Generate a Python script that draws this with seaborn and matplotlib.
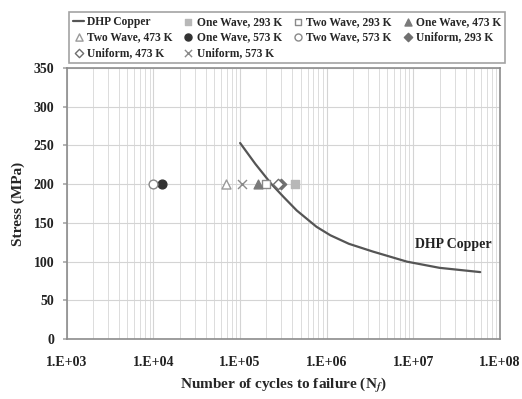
import math
import matplotlib
matplotlib.use("Agg")
import matplotlib.pyplot as plt
from matplotlib.ticker import LogLocator, FixedLocator, FuncFormatter
import seaborn as sns

# S-N curve for DHP copper
curve_cycles = [1.0e5, 1.5e5, 2.3e5, 3.2e5, 4.5e5, 7.6e5, 1.1e6, 1.8e6,
                3.4e6, 8.4e6, 2.0e7, 5.9e7]
curve_stress = [253, 226, 200, 183, 166, 145, 134, 123,
                113, 100, 92, 86.5]

# test points, all at 200 MPa
labels = ["One Wave, 293 K", "Two Wave, 293 K", "One Wave, 473 K",
          "Two Wave, 473 K", "One Wave, 573 K", "Two Wave, 573 K",
          "Uniform, 293 K", "Uniform, 473 K", "Uniform, 573 K"]
cycles = [4.3e5, 2.0e5, 1.62e5, 6.8e4, 1.27e4, 1.0e4, 3.0e5, 2.75e5, 1.06e5]
stress = [200, 200, 200, 200, 200, 200, 200, 200, 200]

markers = ["s", "s", "^", "^", "o", "o", "D", "D", "x"]
filled = [True, False, True, False, True, False, True, False, True]
colors = ["#b8b8b8", "#8a8a8a", "#7a7a7a", "#9a9a9a", "#333333", "#8a8a8a",
          "#707070", "#6e6e6e", "#8a8a8a"]
sizes = [38, 38, 40, 42, 40, 40, 28, 28, 42]

sns.set_theme(style="whitegrid")
plt.rcParams["font.family"] = ["Liberation Serif", "DejaVu Serif"]
plt.rcParams["mathtext.fontset"] = "stix"
plt.rcParams["font.weight"] = "bold"

fig = plt.figure(figsize=(5.22, 3.99), dpi=100)
ax = fig.add_axes([0.128, 0.150, 0.830, 0.680])

sns.lineplot(x=curve_cycles, y=curve_stress, ax=ax, color="#555555",
             linewidth=1.6, label="DHP Copper", legend=False)
handles = [ax.lines[0]]

for lab, n, s, m, f, c, sz in zip(labels, cycles, stress, markers, filled, colors, sizes):
    if m == "x":
        h = ax.scatter([n], [s], marker=m, s=sz, color=c, linewidths=1.0, label=lab, zorder=3)
    elif f:
        h = ax.scatter([n], [s], marker=m, s=sz, color=c, edgecolors=c, label=lab, zorder=3)
    else:
        h = ax.scatter([n], [s], marker=m, s=sz, facecolors="white", edgecolors=c,
                       linewidths=1.0, label=lab, zorder=3)
    handles.append(h)

ax.set_xscale("log")
ax.set_xlim(1e3, 1e8)
ax.set_ylim(0, 350)
ax.yaxis.set_major_locator(FixedLocator(list(range(0, 351, 50))))
ax.xaxis.set_major_locator(LogLocator(base=10, numticks=10))
ax.xaxis.set_minor_locator(LogLocator(base=10, subs=range(2, 10), numticks=100))
ax.xaxis.set_major_formatter(FuncFormatter(lambda v, p: "1.E+%02d" % round(math.log10(v))))

ax.grid(True, which="major", color="#d4d4d4", linewidth=0.8)
ax.grid(True, which="minor", axis="x", color="#dcdcdc", linewidth=0.7)
for sp in ax.spines.values():
    sp.set_color("#8c8c8c")
    sp.set_linewidth(1.2)
ax.tick_params(axis="both", which="major", labelsize=10, colors="#222222", length=3, pad=6)
ax.tick_params(axis="x", which="major", pad=9)
ax.tick_params(axis="y", left=True, color="#aaaaaa")
for t in ax.get_xticklabels() + ax.get_yticklabels():
    t.set_fontweight("bold")

ax.set_xlabel(r"Number of cycles to failure (N$_f$)", fontsize=11, fontweight="bold", labelpad=5)
ax.set_ylabel("Stress (MPa)", fontsize=11, fontweight="bold", labelpad=6)

ax.text(2.9e7, 122, "DHP Copper", ha="center", va="center", fontsize=10, fontweight="bold",
        color="#222222")

# legend filled row by row (4 columns)
order = [0, 4, 8, 1, 5, 9, 2, 6, 3, 7]
leg = fig.legend([handles[i] for i in order], [handles[i].get_label() for i in order],
                 ncol=4, loc="upper left", bbox_to_anchor=(0.122, 0.985),
                 prop={"family": "Liberation Serif", "weight": "bold", "size": 8.3},
                 frameon=True, fancybox=False, edgecolor="#8c8c8c",
                 handlelength=0.9, handletextpad=0.3, columnspacing=0.9,
                 labelspacing=0.3, borderpad=0.35, markerscale=0.8)
leg.get_frame().set_linewidth(1.2)

fig.savefig("out.png", dpi=100, facecolor="white")
